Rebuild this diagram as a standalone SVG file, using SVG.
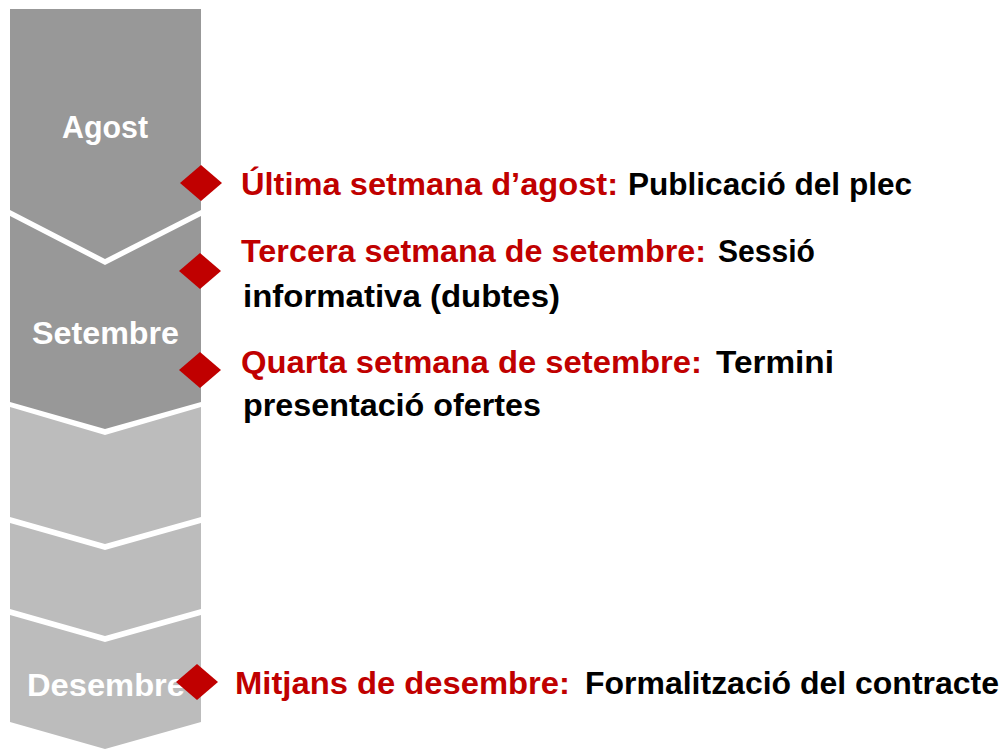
<svg xmlns="http://www.w3.org/2000/svg" width="1007" height="749" viewBox="0 0 1007 749">
<style>
.dark{fill:#989898}
.light{fill:#bcbcbc}
.lbl{font-family:"Liberation Sans",Arial,sans-serif;font-weight:bold;font-size:32px;fill:#ffffff;text-anchor:middle}
.t{font-family:"Liberation Sans",Arial,sans-serif;font-weight:bold;font-size:31px}
.red{fill:#c00000}
.blk{fill:#000000}
.dia{fill:#c00000}
</style>
<rect width="1007" height="749" fill="#ffffff"/>
<g id="seg-agost">
<path class="dark" d="M10,9 H201 V210 L105,259 L10,210 Z"/>
<text class="lbl" x="105" y="138" textLength="86" lengthAdjust="spacingAndGlyphs">Agost</text>
</g>
<g id="seg-setembre">
<path class="dark" d="M10,216 L105,265 L201,216 V402 L105,429 L10,402 Z"/>
<text class="lbl" x="105.5" y="344" textLength="147" lengthAdjust="spacingAndGlyphs">Setembre</text>
</g>
<g id="seg-octubre">
<path class="light" d="M10,407 L105,435 L201,407 V517 L105,544 L10,517 Z"/>
</g>
<g id="seg-novembre">
<path class="light" d="M10,523 L105,550 L201,523 V609 L105,636 L10,609 Z"/>
</g>
<g id="seg-desembre">
<path class="light" d="M10,615 L105,642 L201,615 V722 L105,749 L10,722 Z"/>
<text class="lbl" x="106" y="696" textLength="158" lengthAdjust="spacingAndGlyphs">Desembre</text>
</g>
<g id="m1">
<polygon class="dia" points="201,165 222,183 201,201 180,183"/>
<text class="t red" x="241" y="195" textLength="377" lengthAdjust="spacingAndGlyphs">Última setmana d’agost:</text>
<text class="t blk" x="628" y="195" textLength="284" lengthAdjust="spacingAndGlyphs">Publicació del plec</text>
</g>
<g id="m2">
<polygon class="dia" points="200,253 221,271 200,289 179,271"/>
<text class="t red" x="241" y="262" textLength="465" lengthAdjust="spacingAndGlyphs">Tercera setmana de setembre:</text>
<text class="t blk" x="718" y="262" textLength="97" lengthAdjust="spacingAndGlyphs">Sessió</text>
<text class="t blk" x="243" y="307" textLength="317" lengthAdjust="spacingAndGlyphs">informativa (dubtes)</text>
</g>
<g id="m3">
<polygon class="dia" points="200,352 221,370 200,388 179,370"/>
<text class="t red" x="241" y="373" textLength="461" lengthAdjust="spacingAndGlyphs">Quarta setmana de setembre:</text>
<text class="t blk" x="716" y="373" textLength="118" lengthAdjust="spacingAndGlyphs">Termini</text>
<text class="t blk" x="243" y="416" textLength="298" lengthAdjust="spacingAndGlyphs">presentació ofertes</text>
</g>
<g id="m4">
<polygon class="dia" points="197,664 218,682 197,700 176,682"/>
<text class="t red" x="235" y="694" textLength="335" lengthAdjust="spacingAndGlyphs">Mitjans de desembre:</text>
<text class="t blk" x="585" y="694" textLength="414" lengthAdjust="spacingAndGlyphs">Formalització del contracte</text>
</g>
</svg>
